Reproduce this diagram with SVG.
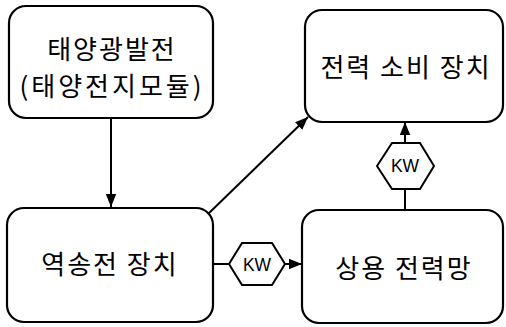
<svg xmlns="http://www.w3.org/2000/svg" width="506" height="327" viewBox="0 0 506 327">
<style>
.box{fill:#fff;stroke:#000;stroke-width:2.2}
.hex{fill:#fff;stroke:#000;stroke-width:2}
.ln{fill:none;stroke:#000;stroke-width:2}
.t{font-family:"Noto Sans CJK KR","Noto Sans",sans-serif;font-size:26px;fill:#000;text-anchor:middle;dominant-baseline:central;letter-spacing:2px}
.kw{font-family:"Liberation Sans",Arial,sans-serif;font-size:17.5px;fill:#000;text-anchor:middle;dominant-baseline:central}
</style>
<defs>
<marker id="ah2" viewBox="0 0 10 10" refX="10" refY="5" markerWidth="13" markerHeight="13" orient="auto" markerUnits="userSpaceOnUse">
<path d="M0,1 L10,5 L0,9 Z" fill="#000"/>
</marker>
</defs>
<g id="connectors">
<line class="ln" x1="111" y1="118" x2="111" y2="207" marker-end="url(#ah2)"/>
<line class="ln" x1="207" y1="215" x2="308" y2="117" marker-end="url(#ah2)"/>
<line class="ln" x1="213" y1="264" x2="229" y2="264"/>
<line class="ln" x1="285" y1="264" x2="302" y2="264" marker-end="url(#ah2)"/>
<line class="ln" x1="405" y1="210" x2="405" y2="189"/>
<line class="ln" x1="405" y1="143" x2="405" y2="122" marker-end="url(#ah2)"/>
</g>
<g id="n_solar">
<rect class="box" x="9" y="6" width="204" height="112" rx="17"/>
<text class="t" x="112" y="47">태양광발전</text>
<text class="t" x="112" y="84" style="letter-spacing:3px">(태양전지모듈)</text>
</g>
<g id="n_consumer">
<rect class="box" x="305" y="10" width="198" height="112" rx="17"/>
<text class="t" x="406" y="65">전력 소비 장치</text>
</g>
<g id="n_reverse">
<rect class="box" x="7" y="208" width="206" height="114" rx="17"/>
<text class="t" x="110" y="262">역송전 장치</text>
</g>
<g id="n_grid">
<rect class="box" x="302" y="210" width="201" height="113" rx="17"/>
<text class="t" x="404" y="266">상용 전력망</text>
</g>
<g id="kw1">
<polygon class="hex" points="229,264 242,243 272,243 285,264 272,285 242,285"/>
<text class="kw" x="257" y="265">KW</text>
</g>
<g id="kw2">
<polygon class="hex" points="377,166 392,143 420,143 434,166 420,189 392,189"/>
<text class="kw" x="405" y="166">KW</text>
</g>
</svg>
